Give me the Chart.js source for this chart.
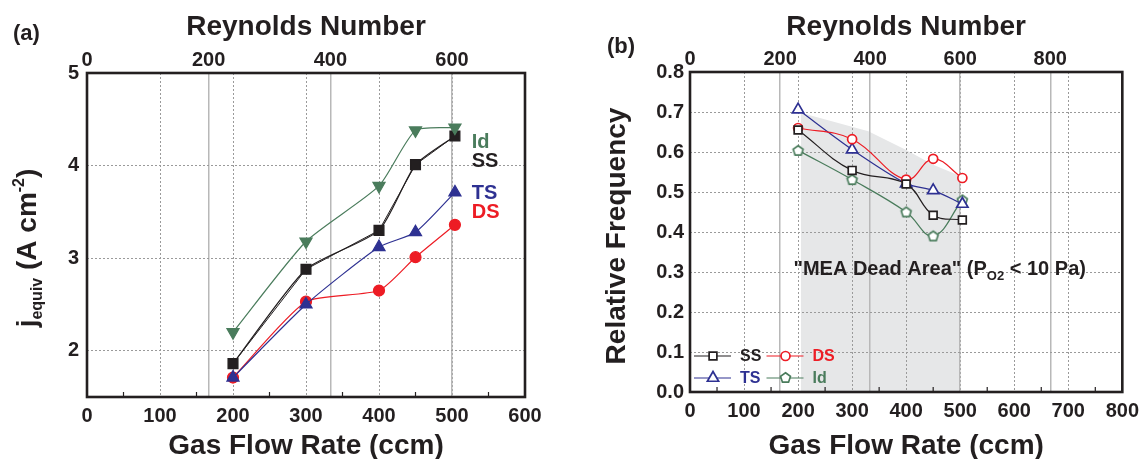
<!DOCTYPE html>
<html>
<head>
<meta charset="utf-8">
<script src="https://cdn.jsdelivr.net/npm/chart.js@4.4.0/dist/chart.umd.min.js"></script>
<style>
  html, body { margin:0; padding:0; background:#fff; }
  #wrap { position:relative; width:1146px; height:459px; }
  canvas { position:absolute; top:0; }
  #ca { left:0; }
  #cb { left:573px; }
</style>
</head>
<body>
<div id="wrap">
  <canvas id="ca" width="573" height="459"></canvas>
  <canvas id="cb" width="573" height="459"></canvas>
</div>
<script>
// ---- data ----
const FLOW = [200, 300, 400, 450, 504];           // gas flow rate (ccm)

// (a) j_equiv (A cm-2)
const J_ID = [2.20, 3.18, 3.78, 4.38, 4.41];
const J_SS = [1.86, 2.88, 3.30, 4.01, 4.32];
const J_TS = [1.71, 2.50, 3.12, 3.28, 3.71];
const J_DS = [1.71, 2.53, 2.65, 3.01, 3.36];

// (b) relative frequency
const F_SS = [0.655, 0.554, 0.520, 0.442, 0.430];
const F_DS = [0.660, 0.632, 0.531, 0.583, 0.535];
const F_TS = [0.706, 0.606, 0.521, 0.504, 0.470];
const F_ID = [0.604, 0.531, 0.450, 0.390, 0.480];

// "MEA dead area" shaded band (upper edge)
const DEAD_X = [205, 330, 400, 450, 500];
const DEAD_Y = [0.698, 0.652, 0.605, 0.568, 0.540];

// axes
const FLOW_TICKS_A = [0, 100, 200, 300, 400, 500, 600];
const FLOW_TICKS_B = [0, 100, 200, 300, 400, 500, 600, 700, 800];
const RE_TICKS_A = [0, 200, 400, 600];
const RE_TICKS_B = [0, 200, 400, 600, 800];
const J_TICKS = [2, 3, 4, 5];
const FREQ_TICKS = [0, 0.1, 0.2, 0.3, 0.4, 0.5, 0.6, 0.7, 0.8];
const RE_PER_CCM = 1.2;   // Reynolds number per ccm

// ---- style ----
const FONT = "'Liberation Sans', Arial, sans-serif";
const INK = '#231f20', RED = '#ed1c24', BLUE = '#2e3192', GREEN = '#4a7c5c';
const DOT = '#9a9a9a', SOLID = '#b8b8b8', SHADE = '#e6e7e8';

Chart.defaults.font.family = FONT;
Chart.defaults.animation = false;

const pts = (xs, ys) => xs.map((x, i) => ({ x, y: ys[i] }));
const hide = 'rgba(0,0,0,0)';

// pentagon marker as a canvas, Chart.js has no such pointStyle
function pentagonPath(ctx, x, y, r) {
  ctx.beginPath();
  for (let k = 0; k < 5; k++) {
    const t = -Math.PI / 2 + k * 2 * Math.PI / 5;
    const px = x + r * Math.cos(t), py = y + r * Math.sin(t);
    k ? ctx.lineTo(px, py) : ctx.moveTo(px, py);
  }
  ctx.closePath();
}
function pentagonImg(color, r) {
  const c = document.createElement('canvas');
  c.width = c.height = Math.ceil(2 * r + 4);
  const g = c.getContext('2d');
  pentagonPath(g, c.width / 2, c.height / 2 + 0.5, r);
  g.fillStyle = '#fff'; g.fill();
  g.strokeStyle = color; g.lineWidth = 1.7; g.stroke();
  return c;
}

function marker(ctx, style, x, y, r, color) {
  ctx.strokeStyle = color; ctx.fillStyle = '#fff'; ctx.lineWidth = 1.7;
  ctx.beginPath();
  if (style === 'rect') { const s = r / Math.SQRT2; ctx.rect(x - s, y - s, 2 * s, 2 * s); }
  else if (style === 'circle') { ctx.arc(x, y, r, 0, 2 * Math.PI); }
  else if (style === 'triangle') {
    for (let k = 0; k < 3; k++) {
      const t = -Math.PI / 2 + k * 2 * Math.PI / 3;
      k ? ctx.lineTo(x + r * Math.cos(t), y + r * Math.sin(t)) : ctx.moveTo(x + r * Math.cos(t), y + r * Math.sin(t));
    }
    ctx.closePath();
  } else { pentagonPath(ctx, x, y, r); }
  ctx.fill(); ctx.stroke();
}

// text with sub/superscript parts: [{t, size, dy}]
function rich(ctx, parts, x, y) {
  let w = 0;
  parts.forEach(p => { ctx.font = 'bold ' + p.size + 'px ' + FONT; w += ctx.measureText(p.t).width; });
  let cx = x - w / 2;
  ctx.textAlign = 'left'; ctx.textBaseline = 'alphabetic';
  parts.forEach(p => {
    ctx.font = 'bold ' + p.size + 'px ' + FONT;
    ctx.fillText(p.t, cx, y + (p.dy || 0));
    cx += ctx.measureText(p.t).width;
  });
}

function axes(flowTicks, flowMax, yMin, yMax, yTicks, yFmt, sizes) {
  const inner = (c, max) => c.tick && c.tick.value > 0 && c.tick.value < max;
  return {
    x: {
      type: 'linear', position: 'bottom', min: 0, max: flowMax,
      afterBuildTicks: s => { s.ticks = flowTicks.map(v => ({ value: v })); },
      afterFit: s => { s.height = sizes.bottom; },
      ticks: { font: { size: 20, weight: 'bold' }, color: INK, padding: 7, autoSkip: false, maxRotation: 0 },
      grid: { drawTicks: false, lineWidth: 1, color: c => inner(c, flowMax) ? DOT : hide },
      border: { display: false, dash: [2, 2] }
    },
    x2: {
      type: 'linear', position: 'top', min: 0, max: flowMax * RE_PER_CCM,
      afterBuildTicks: s => { s.ticks = sizes.re.map(v => ({ value: v })); },
      afterFit: s => { s.height = sizes.top; },
      ticks: { font: { size: 20, weight: 'bold' }, color: INK, padding: 1, autoSkip: false, maxRotation: 0 },
      grid: { drawTicks: false, lineWidth: 1.5, color: c => inner(c, flowMax * RE_PER_CCM) ? SOLID : hide },
      border: { display: false }
    },
    y: {
      type: 'linear', position: 'left', min: yMin, max: yMax,
      afterBuildTicks: s => { s.ticks = yTicks.map(v => ({ value: v })); },
      afterFit: s => { s.width = sizes.left; },
      ticks: { font: { size: 20, weight: 'bold' }, color: INK, padding: sizes.ypad, callback: yFmt },
      grid: { drawTicks: false, lineWidth: 1, color: c => (c.tick && c.tick.value > yMin + 1e-9 && c.tick.value < yMax - 1e-9) ? DOT : hide },
      border: { display: false, dash: [2, 2] }
    }
  };
}

// frame, small bottom ticks and axis titles
const frame = {
  id: 'frame',
  afterDraw(chart) {
    const { ctx, chartArea: a } = chart;
    const xs = chart.scales.x;
    ctx.save();
    ctx.strokeStyle = INK; ctx.lineWidth = 1.2;
    for (let v = 50; v < xs.max; v += 100) {
      const px = xs.getPixelForValue(v);
      ctx.beginPath(); ctx.moveTo(px, a.bottom); ctx.lineTo(px, a.bottom - 5); ctx.stroke();
    }
    ctx.lineWidth = 2.6;
    ctx.strokeRect(a.left, a.top, a.right - a.left, a.bottom - a.top);
    ctx.fillStyle = INK; ctx.textAlign = 'center'; ctx.textBaseline = 'middle';
    ctx.font = 'bold 28px ' + FONT;
    ctx.fillText('Reynolds Number', (a.left + a.right) / 2, 27);
    ctx.fillText('Gas Flow Rate (ccm)', (a.left + a.right) / 2, 446);
    ctx.restore();
  }
};

// ---------------- (a) ----------------
const labelsA = {
  id: 'labelsA',
  afterDraw(chart) {
    const { ctx } = chart, xs = chart.scales.x, ys = chart.scales.y;
    ctx.save();
    ctx.font = 'bold 22px ' + FONT; ctx.fillStyle = INK; ctx.textAlign = 'left'; ctx.textBaseline = 'middle';
    ctx.fillText('(a)', 13, 34);
    ctx.font = 'bold 20px ' + FONT;
    [['Id', GREEN, 4.25], ['SS', INK, 4.04], ['TS', BLUE, 3.70], ['DS', RED, 3.49]].forEach(([t, c, v]) => {
      ctx.fillStyle = c; ctx.fillText(t, xs.getPixelForValue(527), ys.getPixelForValue(v));
    });
    ctx.fillStyle = INK;
    ctx.translate(26, 248); ctx.rotate(-Math.PI / 2);
    rich(ctx, [{ t: 'j', size: 28 }, { t: 'equiv', size: 16, dy: 6 }, { t: ' (A cm', size: 28 },
               { t: '-2', size: 16, dy: -12 }, { t: ')', size: 28 }], 0, 10);
    ctx.restore();
  }
};

new Chart(document.getElementById('ca'), {
  type: 'line',
  data: {
    datasets: [
      { label: 'Id', data: pts(FLOW, J_ID), borderColor: GREEN, backgroundColor: GREEN, pointStyle: 'triangle', pointRotation: 180, pointRadius: 7, borderWidth: 1.2, tension: 0.2 },
      { label: 'SS', data: pts(FLOW, J_SS), borderColor: INK, backgroundColor: INK, pointStyle: 'rect', pointRadius: 7, borderWidth: 1.2, tension: 0.2 },
      { label: 'SS line', data: pts(FLOW, J_SS), borderColor: INK, pointRadius: 0, borderWidth: 1, tension: 0 },
      { label: 'TS', data: pts(FLOW, J_TS), borderColor: BLUE, backgroundColor: BLUE, pointStyle: 'triangle', pointRadius: 7, borderWidth: 1.2, tension: 0.2 },
      { label: 'DS', data: pts(FLOW, J_DS), borderColor: RED, backgroundColor: RED, pointStyle: 'circle', pointRadius: 5.5, borderWidth: 1.2, tension: 0.2 }
    ]
  },
  options: {
    responsive: false, events: [],
    layout: { padding: { left: 0, right: 48, top: 0, bottom: 0 } },
    plugins: { legend: { display: false }, tooltip: { enabled: false } },
    scales: axes(FLOW_TICKS_A, 600, 1.5, 5, J_TICKS, v => String(v),
                 { left: 87, top: 73, bottom: 62, re: RE_TICKS_A, ypad: 8 })
  },
  plugins: [frame, labelsA]
});

// ---------------- (b) ----------------
const LEGEND_B = [
  { t: 'SS', c: INK,   s: 'rect',     r: 5.5, col: 0, row: 0 },
  { t: 'DS', c: RED,   s: 'circle',   r: 4.5, col: 1, row: 0 },
  { t: 'TS', c: BLUE,  s: 'triangle', r: 6.5, col: 0, row: 1 },
  { t: 'Id', c: GREEN, s: 'pentagon', r: 5.2, col: 1, row: 1 }
];

const labelsB = {
  id: 'labelsB',
  afterDraw(chart) {
    const { ctx, chartArea: a } = chart, xs = chart.scales.x, ys = chart.scales.y;
    ctx.save();
    ctx.font = 'bold 22px ' + FONT; ctx.fillStyle = INK; ctx.textAlign = 'left'; ctx.textBaseline = 'middle';
    ctx.fillText('(b)', 34, 47);
    // legend
    LEGEND_B.forEach(it => {
      const x0 = a.left + (it.col ? 76.5 : 4), y = a.bottom - (it.row ? 14 : 36);
      ctx.strokeStyle = it.c; ctx.lineWidth = 1.2;
      ctx.beginPath(); ctx.moveTo(x0, y); ctx.lineTo(x0 + 37, y); ctx.stroke();
      marker(ctx, it.s, x0 + 19, y, it.r, it.c);
      ctx.fillStyle = it.c; ctx.font = 'bold 16px ' + FONT; ctx.textBaseline = 'middle';
      ctx.fillText(it.t, x0 + 46, y + 1);
    });
    // dead area note
    ctx.fillStyle = INK;
    rich(ctx, [{ t: '"MEA Dead Area" (P', size: 20 }, { t: 'O2', size: 13, dy: 5 }, { t: ' < 10 Pa)', size: 20 }],
         xs.getPixelForValue(462), ys.getPixelForValue(0.31) + 7);
    // y title
    ctx.translate(42, 236); ctx.rotate(-Math.PI / 2);
    rich(ctx, [{ t: 'Relative Frequency', size: 28 }], 0, 10);
    ctx.restore();
  }
};

new Chart(document.getElementById('cb'), {
  type: 'line',
  data: {
    datasets: [
      { label: 'SS', data: pts(FLOW, F_SS), borderColor: INK, pointBackgroundColor: '#fff', pointBorderColor: INK, pointStyle: 'rect', pointRadius: 5.5, pointBorderWidth: 1.7, borderWidth: 1.2, tension: 0.4 },
      { label: 'DS', data: pts(FLOW, F_DS), borderColor: RED, pointBackgroundColor: '#fff', pointBorderColor: RED, pointStyle: 'circle', pointRadius: 4.5, pointBorderWidth: 1.7, borderWidth: 1.2, tension: 0.4 },
      { label: 'TS', data: pts(FLOW, F_TS), borderColor: BLUE, pointBackgroundColor: '#fff', pointBorderColor: BLUE, pointStyle: 'triangle', pointRadius: 6.5, pointBorderWidth: 1.7, borderWidth: 1.2, tension: 0.3 },
      { label: 'Id', data: pts(FLOW, F_ID), borderColor: GREEN, pointStyle: pentagonImg(GREEN, 5.2), borderWidth: 1.2, tension: 0.4 },
      { label: 'dead', data: pts(DEAD_X, DEAD_Y), borderWidth: 0, pointRadius: 0, backgroundColor: SHADE, fill: 'origin', tension: 0, order: 5 }
    ]
  },
  options: {
    responsive: false, events: [],
    layout: { padding: { left: 0, right: 18, top: 0, bottom: 0 } },
    plugins: { legend: { display: false }, tooltip: { enabled: false }, filler: { drawTime: 'beforeDraw' } },
    scales: axes(FLOW_TICKS_B, 800, 0, 0.8, FREQ_TICKS, v => v.toFixed(1),
                 { left: 117, top: 72, bottom: 67, re: RE_TICKS_B, ypad: 6 })
  },
  plugins: [frame, labelsB]
});
</script>
</body>
</html>
